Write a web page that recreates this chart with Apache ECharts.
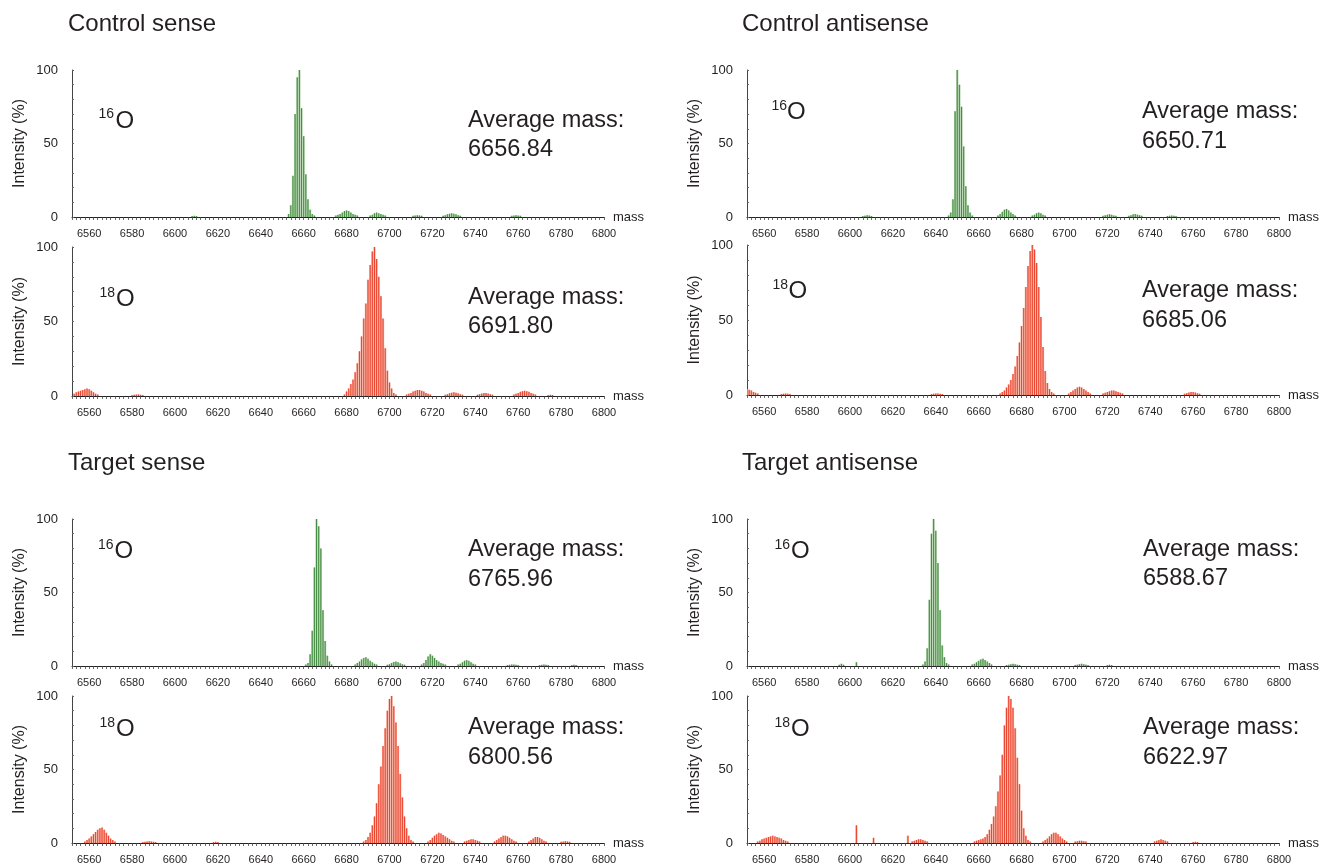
<!DOCTYPE html>
<html>
<head>
<meta charset="UTF-8">
<title>16O / 18O mass spectra</title>
<script src="https://cdn.jsdelivr.net/npm/echarts@6/dist/echarts.min.js"></script>
<style>
body {
    margin: 0;
    padding: 0;
    background: #fff;
}
#main { width: 1330px; height: 865px; }
</style>
</head>
<body>
<div id="main"></div>
<script>
// isotope peak clusters: [first mass, intensities (%) at 1 Da steps]
var ctrlSense16 = [
    [6608, [0.6, 0.8, 0.6]],
    [6653, [2, 8, 28, 70, 95, 100, 74, 55, 29, 12, 5, 2, 1]],
    [6675, [1, 1.5, 2, 3, 4, 4.5, 4, 3, 2, 1.5, 1]],
    [6691, [1, 1.5, 2.5, 3, 2.5, 2, 1.5, 1]],
    [6711, [0.8, 1, 1.2, 1, 0.8]],
    [6725, [0.8, 1.2, 1.8, 2.2, 2.5, 2.2, 1.8, 1.2, 0.8]],
    [6757, [0.8, 1, 1.2, 1, 0.8]]
];
var ctrlSense18 = [
    [6553, [1.5, 2.5, 3, 3.5, 4, 4.5, 5, 4.5, 3.5, 2.5, 1.5, 1]],
    [6580, [0.6, 0.8, 1, 1, 0.8, 0.6]],
    [6679, [1, 3, 5, 8, 11, 16, 22, 30, 40, 52, 62, 78, 88, 97, 100, 92, 80, 67, 52, 32, 17, 9, 5, 2, 1]],
    [6708, [1, 1.5, 2, 3, 3.5, 4, 4, 3.5, 3, 2, 1.5, 1]],
    [6726, [0.8, 1.2, 1.8, 2.2, 2.5, 2.2, 1.8, 1.2, 0.8]],
    [6741, [0.8, 1.2, 1.6, 2, 2, 1.6, 1.2, 0.8]],
    [6758, [1, 1.5, 2, 2.8, 3.2, 3.5, 3.2, 2.8, 2, 1.5, 1]],
    [6774, [0.6, 0.8, 0.6]]
];
var ctrlAnti16 = [
    [6606, [0.6, 0.9, 1.2, 1, 0.7]],
    [6646, [1, 3, 12, 72, 100, 90, 75, 48, 21, 8, 3, 1]],
    [6669, [1, 2, 3.5, 5, 5.5, 4.5, 3, 2, 1]],
    [6685, [1, 1.5, 2.5, 3, 2.5, 1.5, 1]],
    [6718, [0.8, 1.2, 1.6, 1.8, 1.5, 1, 0.8]],
    [6730, [0.8, 1.2, 1.8, 2, 1.6, 1.2, 0.8]],
    [6748, [0.6, 0.8, 1, 0.8, 0.6]]
];
var ctrlAnti18 = [
    [6552, [4, 3.5, 3, 2, 1.5, 1]],
    [6568, [0.6, 0.8, 1, 0.8, 0.6]],
    [6638, [0.6, 0.8, 1, 1, 0.8, 0.6]],
    [6670, [1, 2, 3, 5, 7, 10, 14, 19, 26, 35, 46, 58, 72, 86, 96, 100, 97, 88, 72, 52, 32, 16, 8, 4, 2, 1]],
    [6702, [1, 2, 3, 4, 5, 5.5, 5, 4, 3, 2, 1]],
    [6718, [1, 1.5, 2, 2.5, 3, 3, 2.5, 2, 1.5, 1]],
    [6756, [0.8, 1.2, 1.6, 2, 2, 1.6, 1.2, 0.8]]
];
var targSense16 = [
    [6661, [1, 2, 8, 24, 67, 100, 95, 80, 38, 17, 7, 3, 1]],
    [6684, [1, 2, 3, 4.5, 5.5, 6, 5, 3.5, 2.5, 1.5, 1]],
    [6699, [0.8, 1.2, 2, 2.8, 3, 2.5, 1.8, 1.2, 0.8]],
    [6715, [1, 2, 4, 6.5, 8, 7, 5.5, 4, 3, 2, 1.5, 1]],
    [6732, [1, 1.5, 2.5, 3.5, 4, 3.5, 2.5, 1.5, 1]],
    [6755, [0.6, 0.8, 1, 1, 0.8, 0.6]],
    [6770, [0.6, 0.8, 1, 0.8, 0.6]],
    [6785, [0.6, 0.8, 0.6]]
];
var targSense18 = [
    [6558, [1, 2, 3, 4.5, 6, 7.5, 9, 10, 10.5, 9, 7, 5, 3, 2, 1]],
    [6585, [0.6, 0.8, 1, 1.2, 1, 0.8, 0.6]],
    [6618, [0.6, 0.8, 0.6]],
    [6688, [1, 2, 4, 7, 12, 18, 27, 40, 52, 66, 78, 90, 98, 100, 93, 82, 66, 47, 31, 18, 10, 5, 2, 1]],
    [6718, [1, 2, 3.5, 5, 6, 7, 6.5, 5.5, 4.5, 3.5, 2.5, 1.5, 1]],
    [6735, [1, 1.5, 2, 2.5, 2.5, 2, 1.5, 1]],
    [6749, [1, 2, 3, 4, 5, 5, 4.5, 3.5, 2.5, 1.5, 1]],
    [6765, [1, 2, 3, 4, 4, 3.5, 2.5, 1.5, 1]],
    [6780, [0.8, 1, 1.2, 1, 0.8]]
];
var targAnti16 = [
    [6595, [0.8, 1.5, 0.8]],
    [6603, [2.5]],
    [6634, [1, 3, 12, 45, 90, 100, 92, 70, 38, 14, 6, 2, 1]],
    [6657, [1, 1.5, 2.5, 3.5, 4.5, 5, 4, 3, 2, 1]],
    [6673, [0.6, 0.8, 1.2, 1.5, 1.2, 0.8, 0.6]],
    [6705, [0.6, 0.9, 1.2, 1.5, 1.2, 0.9, 0.6]],
    [6720, [0.6, 0.8, 0.6]]
];
var targAnti18 = [
    [6557, [1, 1.5, 2.5, 3, 3.5, 4, 4.5, 5, 4.5, 4, 3.5, 3, 2, 1.5, 1]],
    [6603, [12]],
    [6611, [3.5]],
    [6627, [5]],
    [6629, [1, 1.5, 2, 2.5, 2.5, 2, 1.5, 1]],
    [6658, [1, 1.5, 2, 2.5, 3, 4, 6, 9, 13, 18, 25, 35, 46, 60, 80, 92, 100, 98, 92, 78, 58, 40, 22, 10, 5, 2, 1]],
    [6690, [1, 2, 3, 4.5, 6, 7, 7, 6, 4.5, 3, 2, 1]],
    [6705, [1, 1.2, 1.5, 1.5, 1.2, 1]],
    [6742, [1, 1.5, 2, 2.5, 2, 1.5, 1]],
    [6760, [0.6, 0.8, 0.6]]
];

var avgMass16 = ['6656.84', '6650.71', '6765.96', '6588.67'];
var avgMass18 = ['6691.80', '6685.06', '6800.56', '6622.97'];
var panelTitles = ['Control sense', 'Control antisense', 'Target sense', 'Target antisense'];
var massLabels = [6560, 6580, 6600, 6620, 6640, 6660, 6680, 6700, 6720, 6740, 6760, 6780, 6800];
var intensityLabels = [0, 50, 100];

var GREEN = ['#a9cfa3', '#3e863b'];
var RED = ['#f7a897', '#e83a24'];

// layout of the 8 small plots
var panels = [
    {left: 72, top: 70, height: 147, data: ctrlSense16, iso: '16', col: GREEN, mass: avgMass16[0], lab: [98.5, 114, 115.5, 121.3], avg: [468, 120.5]},
    {left: 72, top: 247, height: 149, data: ctrlSense18, iso: '18', col: RED, mass: avgMass18[0], lab: [99.5, 293, 116, 299], avg: [468, 297.5]},
    {left: 747, top: 70, height: 147, data: ctrlAnti16, iso: '16', col: GREEN, mass: avgMass16[1], lab: [771.5, 106, 787, 112], avg: [1142, 112]},
    {left: 747, top: 245, height: 150, data: ctrlAnti18, iso: '18', col: RED, mass: avgMass18[1], lab: [772.5, 285.5, 788.5, 291.3], avg: [1142, 291]},
    {left: 72, top: 519, height: 147, data: targSense16, iso: '16', col: GREEN, mass: avgMass16[2], lab: [98, 545, 114.5, 551], avg: [468, 550]},
    {left: 72, top: 696, height: 149, data: targSense18, iso: '18', col: RED, mass: avgMass18[2], lab: [99.5, 723.5, 116, 729.5], avg: [468, 728]},
    {left: 747, top: 519, height: 147, data: targAnti16, iso: '16', col: GREEN, mass: avgMass16[3], lab: [774.5, 545, 791, 551], avg: [1143, 549.5]},
    {left: 747, top: 696, height: 149, data: targAnti18, iso: '18', col: RED, mass: avgMass18[3], lab: [774.5, 723.5, 791, 729], avg: [1143, 728]}
];

function toPoints(clusters) {
    var pts = [];
    clusters.forEach(function (c) {
        c[1].forEach(function (v, i) { pts.push([c[0] + i, v]); });
    });
    return pts;
}

function stickRenderer(col) {
    return function (params, api) {
        var top = api.coord([api.value(0), api.value(1)]);
        var base = api.coord([api.value(0), 0]);
        var h = base[1] - top[1];
        return {
            type: 'group',
            children: [
                {type: 'rect', shape: {x: top[0] - 1.1, y: top[1], width: 2.2, height: h}, style: {fill: col[0]}},
                {type: 'rect', shape: {x: top[0] - 0.45, y: top[1], width: 0.9, height: h}, style: {fill: col[1]}}
            ]
        };
    };
}

var FONT = '"Liberation Sans", Arial, sans-serif';
var TXT = '#231f20';

var grids = [], xAxes = [], yAxes = [], series = [], texts = [];

panels.forEach(function (p, i) {
    grids.push({left: p.left, top: p.top, width: 532, height: p.height});
    xAxes.push({
        gridIndex: i,
        type: 'value',
        min: 6552,
        max: 6800,
        interval: 2,
        name: 'mass',
        nameLocation: 'end',
        nameGap: 9,
        nameTextStyle: {fontFamily: FONT, fontSize: 13, color: TXT},
        axisLine: {lineStyle: {color: '#222', width: 1}},
        axisTick: {length: 3, lineStyle: {color: '#444', width: 0.8}},
        axisLabel: {
            fontFamily: FONT, fontSize: 11, color: TXT, margin: 11,
            formatter: function (v) { return massLabels.indexOf(v) >= 0 ? String(v) : ''; }
        },
        splitLine: {show: false}
    });
    yAxes.push({
        gridIndex: i,
        type: 'value',
        min: 0,
        max: 100,
        interval: 10,
        name: 'Intensity (%)',
        nameLocation: 'middle',
        nameGap: 44,
        nameTextStyle: {fontFamily: FONT, fontSize: 16, color: TXT},
        axisLine: {show: true, lineStyle: {color: '#444', width: 1}},
        axisTick: {show: true, inside: true, length: 2, lineStyle: {color: '#666'}},
        axisLabel: {
            fontFamily: FONT, fontSize: 13, color: TXT, margin: 14,
            formatter: function (v) { return intensityLabels.indexOf(v) >= 0 ? String(v) : ''; }
        },
        splitLine: {show: false}
    });
    series.push({
        type: 'custom',
        xAxisIndex: i,
        yAxisIndex: i,
        clip: true,
        renderItem: stickRenderer(p.col),
        encode: {x: 0, y: 1},
        data: toPoints(p.data),
        silent: true
    });
    texts.push({type: 'text', x: p.lab[0], y: p.lab[1], style: {text: p.iso, font: '14px ' + FONT, fill: TXT, verticalAlign: 'middle'}});
    texts.push({type: 'text', x: p.lab[2], y: p.lab[3], style: {text: 'O', font: '24px ' + FONT, fill: TXT, verticalAlign: 'middle'}});
    texts.push({type: 'text', x: p.avg[0], y: p.avg[1], style: {text: 'Average mass:', font: '23.5px ' + FONT, fill: TXT, verticalAlign: 'middle'}});
    texts.push({type: 'text', x: p.avg[0], y: p.avg[1] + 29.5, style: {text: p.mass, font: '23.5px ' + FONT, fill: TXT, verticalAlign: 'middle'}});
});

var titlePos = [[68, 24], [742, 24], [68, 463], [742, 463]];
panelTitles.forEach(function (t, i) {
    texts.push({type: 'text', x: titlePos[i][0], y: titlePos[i][1], style: {text: t, font: '24px ' + FONT, fill: TXT, verticalAlign: 'middle'}});
});

var myChart = echarts.init(document.getElementById('main'));
myChart.setOption({
    animation: false,
    backgroundColor: '#fff',
    grid: grids,
    xAxis: xAxes,
    yAxis: yAxes,
    series: series,
    graphic: texts
});
</script>
</body>
</html>
